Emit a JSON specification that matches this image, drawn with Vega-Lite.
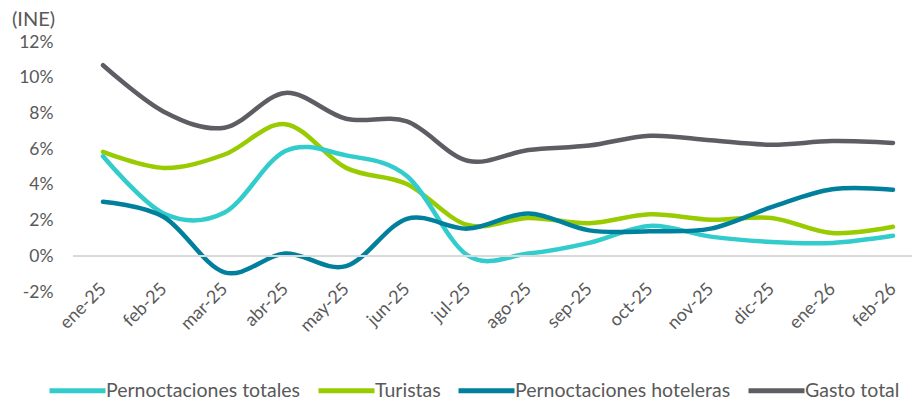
{
  "$schema": "https://vega.github.io/schema/vega-lite/v6.json",
  "width": 839,
  "height": 250,
  "autosize": {"type": "none"},
  "padding": {"left": 73, "top": 42, "right": 4, "bottom": 108},
  "background": "white",
  "config": {
    "view": {"stroke": null},
    "font": "Lato",
    "axis": {"grid": false, "domain": false, "ticks": false, "tickSize": 0, "labelColor": "#595959", "labelFont": "Lato", "labelFontSize": 18, "labelOverlap": false, "title": null}
  },
  "title": {
    "text": "(INE)",
    "anchor": "start",
    "frame": "group",
    "dx": -61,
    "offset": -13,
    "baseline": "alphabetic",
    "fontSize": 20,
    "fontWeight": "normal",
    "color": "#595959",
    "font": "Lato"
  },
  "data": {
    "values": [
      {"mes": "ene-25", "serie": "Gasto total", "valor": 10.7},
      {"mes": "feb-25", "serie": "Gasto total", "valor": 8.1},
      {"mes": "mar-25", "serie": "Gasto total", "valor": 7.2},
      {"mes": "abr-25", "serie": "Gasto total", "valor": 9.15},
      {"mes": "may-25", "serie": "Gasto total", "valor": 7.7},
      {"mes": "jun-25", "serie": "Gasto total", "valor": 7.55},
      {"mes": "jul-25", "serie": "Gasto total", "valor": 5.35},
      {"mes": "ago-25", "serie": "Gasto total", "valor": 5.95},
      {"mes": "sep-25", "serie": "Gasto total", "valor": 6.2},
      {"mes": "oct-25", "serie": "Gasto total", "valor": 6.75},
      {"mes": "nov-25", "serie": "Gasto total", "valor": 6.5},
      {"mes": "dic-25", "serie": "Gasto total", "valor": 6.25},
      {"mes": "ene-26", "serie": "Gasto total", "valor": 6.45},
      {"mes": "feb-26", "serie": "Gasto total", "valor": 6.35},
      {"mes": "ene-25", "serie": "Turistas", "valor": 5.85},
      {"mes": "feb-25", "serie": "Turistas", "valor": 4.95},
      {"mes": "mar-25", "serie": "Turistas", "valor": 5.7},
      {"mes": "abr-25", "serie": "Turistas", "valor": 7.4},
      {"mes": "may-25", "serie": "Turistas", "valor": 4.95},
      {"mes": "jun-25", "serie": "Turistas", "valor": 4.05},
      {"mes": "jul-25", "serie": "Turistas", "valor": 1.75},
      {"mes": "ago-25", "serie": "Turistas", "valor": 2.15},
      {"mes": "sep-25", "serie": "Turistas", "valor": 1.85},
      {"mes": "oct-25", "serie": "Turistas", "valor": 2.35},
      {"mes": "nov-25", "serie": "Turistas", "valor": 2.05},
      {"mes": "dic-25", "serie": "Turistas", "valor": 2.15},
      {"mes": "ene-26", "serie": "Turistas", "valor": 1.3},
      {"mes": "feb-26", "serie": "Turistas", "valor": 1.65},
      {"mes": "ene-25", "serie": "Pernoctaciones totales", "valor": 5.6},
      {"mes": "feb-25", "serie": "Pernoctaciones totales", "valor": 2.4},
      {"mes": "mar-25", "serie": "Pernoctaciones totales", "valor": 2.45},
      {"mes": "abr-25", "serie": "Pernoctaciones totales", "valor": 5.9},
      {"mes": "may-25", "serie": "Pernoctaciones totales", "valor": 5.65},
      {"mes": "jun-25", "serie": "Pernoctaciones totales", "valor": 4.5},
      {"mes": "jul-25", "serie": "Pernoctaciones totales", "valor": 0.05},
      {"mes": "ago-25", "serie": "Pernoctaciones totales", "valor": 0.15},
      {"mes": "sep-25", "serie": "Pernoctaciones totales", "valor": 0.75},
      {"mes": "oct-25", "serie": "Pernoctaciones totales", "valor": 1.7},
      {"mes": "nov-25", "serie": "Pernoctaciones totales", "valor": 1.1},
      {"mes": "dic-25", "serie": "Pernoctaciones totales", "valor": 0.8},
      {"mes": "ene-26", "serie": "Pernoctaciones totales", "valor": 0.75},
      {"mes": "feb-26", "serie": "Pernoctaciones totales", "valor": 1.15},
      {"mes": "ene-25", "serie": "Pernoctaciones hoteleras", "valor": 3.05},
      {"mes": "feb-25", "serie": "Pernoctaciones hoteleras", "valor": 2.2},
      {"mes": "mar-25", "serie": "Pernoctaciones hoteleras", "valor": -0.9},
      {"mes": "abr-25", "serie": "Pernoctaciones hoteleras", "valor": 0.15},
      {"mes": "may-25", "serie": "Pernoctaciones hoteleras", "valor": -0.55},
      {"mes": "jun-25", "serie": "Pernoctaciones hoteleras", "valor": 2.1},
      {"mes": "jul-25", "serie": "Pernoctaciones hoteleras", "valor": 1.55},
      {"mes": "ago-25", "serie": "Pernoctaciones hoteleras", "valor": 2.4},
      {"mes": "sep-25", "serie": "Pernoctaciones hoteleras", "valor": 1.45},
      {"mes": "oct-25", "serie": "Pernoctaciones hoteleras", "valor": 1.4},
      {"mes": "nov-25", "serie": "Pernoctaciones hoteleras", "valor": 1.55},
      {"mes": "dic-25", "serie": "Pernoctaciones hoteleras", "valor": 2.75},
      {"mes": "ene-26", "serie": "Pernoctaciones hoteleras", "valor": 3.75},
      {"mes": "feb-26", "serie": "Pernoctaciones hoteleras", "valor": 3.72}
    ]
  },
  "layer": [
    {
      "mark": {"type": "line", "interpolate": "cardinal", "strokeWidth": 4.5, "strokeCap": "round", "strokeJoin": "round"},
      "encoding": {
        "x": {
          "field": "mes",
          "type": "ordinal",
          "sort": null,
          "scale": {"type": "point", "range": [30, 820], "padding": 0},
          "axis": {"labelAngle": -45, "labelAlign": "right", "labelBaseline": "middle", "labelPadding": -6}
        },
        "y": {
          "field": "valor",
          "type": "quantitative",
          "scale": {"domain": [-2, 12], "nice": false},
          "axis": {"values": [-2, 0, 2, 4, 6, 8, 10, 12], "tickCount": 8, "labelExpr": "datum.value + '%'", "labelPadding": 20, "labelFontSize": 17.5, "labelOverlap": false, "labelBound": false, "labelFlush": false}
        },
        "color": {
          "field": "serie",
          "type": "nominal",
          "scale": {
            "domain": ["Pernoctaciones totales", "Turistas", "Pernoctaciones hoteleras", "Gasto total"],
            "range": ["#33cccc", "#99cc00", "#00809c", "#5f5c63"]
          },
          "legend": {
            "title": null,
            "orient": "none",
            "direction": "horizontal",
            "legendX": -26,
            "legendY": 318,
            "symbolType": "stroke",
            "symbolStrokeWidth": 5,
            "symbolSize": 3136,
            "labelFont": "Lato",
            "labelFontSize": 19.5,
            "labelColor": "#595959",
            "labelOffset": -2,
            "columnPadding": 7,
            "labelLimit": 400
          }
        }
      }
    },
    {
      "mark": {"type": "rule", "color": "#d9d9d9", "strokeWidth": 1.5},
      "encoding": {"y": {"datum": 0, "type": "quantitative", "axis": {"values": [-2, 0, 2, 4, 6, 8, 10, 12], "tickCount": 8, "labelExpr": "datum.value + '%'", "labelPadding": 20, "labelFontSize": 17.5, "labelOverlap": false, "labelBound": false, "labelFlush": false}}}
    }
  ]
}
